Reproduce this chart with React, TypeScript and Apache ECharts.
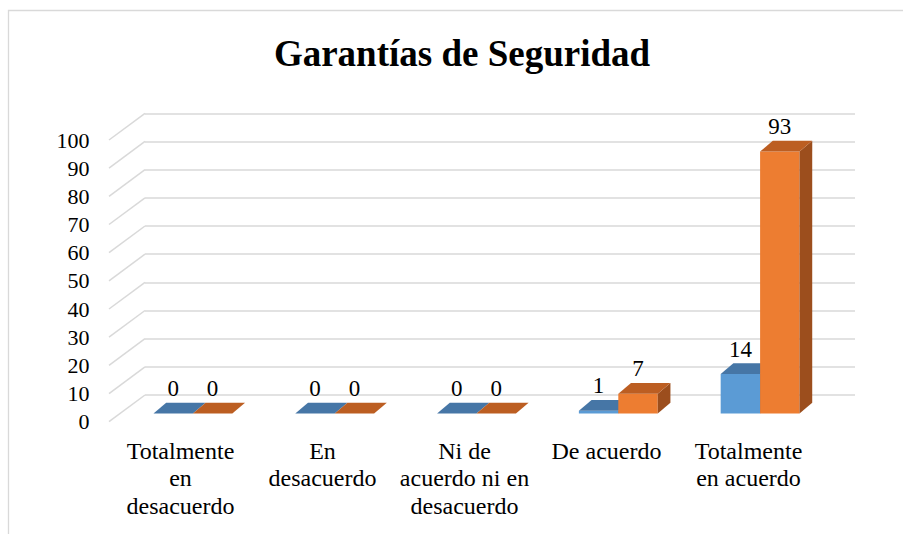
import React, { useEffect, useRef } from "react";
import * as echarts from "echarts";

const categories = [
  "Totalmente\nen\ndesacuerdo",
  "En\ndesacuerdo",
  "Ni de\nacuerdo ni en\ndesacuerdo",
  "De acuerdo",
  "Totalmente\nen acuerdo",
];
const serie1 = [0, 0, 0, 1, 14];
const serie2 = [0, 0, 0, 7, 93];
const yTicks = [0, 10, 20, 30, 40, 50, 60, 70, 80, 90, 100];
const titleText = "Garantías de Seguridad";

const FONT = "'Liberation Serif', 'Times New Roman', serif";
const DEPTH_DX = 12.7;
const DEPTH_DY = -10.7;

function barRenderer(side: number, front: string, topC: string, sideC: string) {
  return (params: any, api: any) => {
    const i = api.value(0);
    const v = api.value(1);
    const top = api.coord([i, v]);
    const base = api.coord([i, 0]);
    const band = api.size([1, 0])[0];
    const w = band * 0.278;
    const x0 = side === 0 ? top[0] - w : top[0];
    const x1 = x0 + w;
    const yT = top[1];
    const yB = base[1];
    const children: any[] = [];
    if (yB - yT > 0.1) {
      children.push({
        type: "rect",
        shape: { x: x0, y: yT, width: w, height: yB - yT },
        style: { fill: front },
      });
      children.push({
        type: "polygon",
        shape: {
          points: [
            [x1, yT],
            [x1 + DEPTH_DX, yT + DEPTH_DY],
            [x1 + DEPTH_DX, yB + DEPTH_DY],
            [x1, yB],
          ],
        },
        style: { fill: sideC },
      });
    }
    children.push({
      type: "polygon",
      shape: {
        points: [
          [x0, yT],
          [x1, yT],
          [x1 + DEPTH_DX, yT + DEPTH_DY],
          [x0 + DEPTH_DX, yT + DEPTH_DY],
        ],
      },
      style: { fill: topC },
    });
    children.push({
      type: "text",
      x: (x0 + x1) / 2,
      y: yT - 25,
      style: {
        text: String(v),
        align: "center",
        verticalAlign: "middle",
        fontSize: 23,
        fontFamily: FONT,
        fill: "#000",
      },
    });
    return { type: "group", children };
  };
}

export default function App() {
  const ref = useRef<HTMLDivElement>(null);
  useEffect(() => {
    if (!ref.current) return;
    const chart = echarts.init(ref.current, undefined, { renderer: "svg" });
    const option: any = {
      animation: false,
      backgroundColor: "#fff",
      title: {
        text: titleText,
        left: 462,
        top: 35,
        padding: 0,
        textAlign: "center",
        textStyle: { fontFamily: FONT, fontWeight: "bold", fontSize: 37, color: "#000" },
      },
      graphic: [
        {
          type: "rect",
          silent: true,
          z: -10,
          shape: { x: 8.5, y: 10.5, width: 1000, height: 1000 },
          style: { fill: "none", stroke: "#d9d9d9", lineWidth: 1.3 },
        },
      ],
      grid: [
        { left: 145, top: 113.3, width: 710, height: 281.7 },
        { left: 109.5, top: 140, width: 710, height: 281.7 },
        { left: 122, top: 131.8, width: 709, height: 281.7 },
      ],
      xAxis: [
        { type: "category", gridIndex: 0, data: categories, show: false },
        {
          type: "category",
          gridIndex: 1,
          data: categories,
          axisLine: { show: false },
          axisTick: { show: false },
          axisLabel: {
            interval: 0,
            margin: 15.5,
            fontSize: 24,
            lineHeight: 27.4,
            fontFamily: FONT,
            color: "#000",
            align: "center",
          },
        },
        { type: "category", gridIndex: 2, data: categories, show: false },
      ],
      yAxis: [
        {
          type: "value",
          gridIndex: 0,
          min: 0,
          max: 100,
          interval: 10,
          axisLine: { show: false },
          axisTick: { show: false },
          axisLabel: { show: false },
          splitLine: { show: true, lineStyle: { color: "#d9d9d9", width: 1.5 } },
        },
        {
          type: "value",
          gridIndex: 1,
          min: 0,
          max: 100,
          interval: 10,
          axisLine: { show: false },
          axisTick: { show: false },
          splitLine: { show: false },
          axisLabel: {
            margin: 20,
            fontSize: 22,
            fontFamily: FONT,
            color: "#000",
          },
        },
        { type: "value", gridIndex: 2, min: 0, max: 100, interval: 10, show: false, splitLine: { show: false } },
      ],
      series: [
        {
          type: "custom",
          name: "diagonales",
          xAxisIndex: 0,
          yAxisIndex: 0,
          z: 1,
          silent: true,
          data: yTicks.map((t) => [0, t]),
          renderItem: (params: any, api: any) => {
            const y = api.coord([0, api.value(1)])[1];
            const x = params.coordSys.x;
            return {
              type: "line",
              shape: { x1: x, y1: y, x2: x - 36, y2: y + 26.7 },
              style: { stroke: "#d9d9d9", lineWidth: 1.5 },
            };
          },
        },
        {
          type: "custom",
          name: "Serie1",
          xAxisIndex: 2,
          yAxisIndex: 2,
          z: 3,
          data: serie1.map((v, i) => [i, v]),
          renderItem: barRenderer(0, "#5B9BD5", "#4676a6", "#3b6591"),
        },
        {
          type: "custom",
          name: "Serie2",
          xAxisIndex: 2,
          yAxisIndex: 2,
          z: 4,
          data: serie2.map((v, i) => [i, v]),
          renderItem: barRenderer(1, "#ED7D31", "#bc5e22", "#9c4e1d"),
        },
      ],
    };
    chart.setOption(option);
    return () => chart.dispose();
  }, []);
  return (
    <div
      ref={ref}
      style={{ position: "absolute", left: 0, top: 0, width: 903, height: 534 }}
    />
  );
}
